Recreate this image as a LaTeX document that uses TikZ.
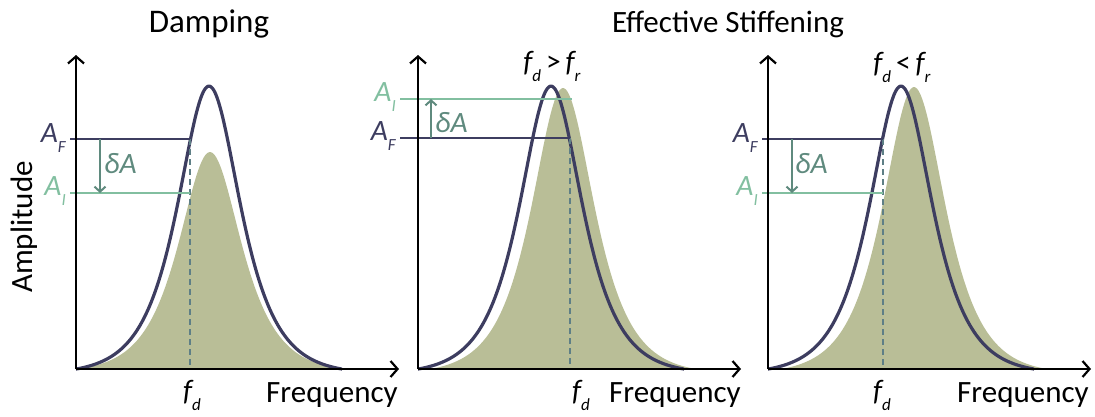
\documentclass[tikz,border=0pt]{standalone}
\usepackage{fontspec}
\setmainfont{Carlito}
\usetikzlibrary{arrows.meta}
\definecolor{navy}{HTML}{3D3D60}
\definecolor{olivefill}{HTML}{B9BE97}
\definecolor{mint}{HTML}{82BFA0}
\definecolor{tealdark}{HTML}{5F8A7E}
\definecolor{dashc}{HTML}{5E7F86}
\newcommand{\subl}[1]{\raisebox{-0.36em}{\fontsize{17}{17}\selectfont\itshape #1}}
\tikzset{
  axisarrow/.style={line width=2.2pt, -{Straight Barb[length=7pt,width=16pt,line width=2.2pt]}},
  outline/.style={navy, line width=3.2pt, line join=round},
  filled/.style={fill=olivefill, draw=none},
  afline/.style={navy, line width=2.8pt},
  ailine/.style={mint, line width=2.8pt},
  dashv/.style={dashc, line width=1.8pt, dash pattern=on 6pt off 4pt},
  darrow/.style={tealdark, line width=2pt, -{Straight Barb[length=5pt,width=11pt,line width=2pt]}},
  lbl/.style={font=\fontsize{31}{36}\selectfont, inner sep=0pt},
  tlbl/.style={font=\fontsize{33}{38}\selectfont, inner sep=0pt},
  ilbl/.style={font=\fontsize{29.5}{34}\selectfont\itshape, inner sep=0pt},
}
\begin{document}
\begin{tikzpicture}[x=1pt,y=-1pt,
  declare function={bump(\x,\c,\h)=\h*max(0,1/cosh((\x-\c)/28)-0.0175)/0.9825;}]
\useasboundingbox (0,0) rectangle (1095,416);

% titles
\node[tlbl, anchor=base] (t1) at (209,32) {Damping};
\node[lbl, anchor=base] (t2) at (728,32) {Effective Stiffening};
\node[lbl, rotate=90, anchor=base] (amp) at (32,227) {Amplitude};

% ---------------- Panel 1 ----------------
\coordinate (o1) at (76,369);
\coordinate (y1) at (76,55);
\coordinate (x1) at (399,369);
\fill[filled] plot[domain=78:342, samples=200] (\x,{369-bump(\x,210,217)}) -- cycle;
\draw[outline] plot[domain=76:342, samples=200] (\x,{369-bump(\x,209,283)});
\coordinate (af1s) at (70,139); \coordinate (af1e) at (190,139);
\coordinate (ai1s) at (70,193); \coordinate (ai1e) at (190,193);
\coordinate (fd1) at (190,369);
\draw[dashv] (af1e) -- (fd1);
\draw[afline] (af1s) -- (af1e);
\draw[ailine] (ai1s) -- (ai1e);
\coordinate (d1s) at (100,139); \coordinate (d1e) at (100,193);
\draw[darrow] (d1s) -- (d1e);
\draw[axisarrow] (o1) -- (y1);
\draw[axisarrow] (o1) -- (x1);
\node[ilbl, navy, anchor=base east] (lf1) at (66,142) {A\subl{F}};
\node[ilbl, mint, anchor=base east] (li1) at (66,195) {A\subl{I}};
\node[ilbl, tealdark, anchor=base west] (da1) at (104,173) {δA};
\node[ilbl, anchor=base] (fdl1) at (192,400) {f\subl{d}};
\node[lbl, anchor=base west] (fr1) at (266,402) {Frequency};

% ---------------- Panel 2 ----------------
\coordinate (o2) at (418,369);
\coordinate (y2) at (418,55);
\coordinate (x2) at (741,369);
\fill[filled] plot[domain=432:694, samples=200] (\x,{369-bump(\x,563,281)}) -- cycle;
\draw[outline] plot[domain=418:684, samples=200] (\x,{369-bump(\x,551,283)});
\coordinate (ai2s) at (400,99); \coordinate (ai2e) at (572,99);
\coordinate (af2s) at (400,138); \coordinate (af2e) at (570,138);
\coordinate (fd2) at (570,369);
\draw[dashv] (af2e) -- (fd2);
\draw[afline] (af2s) -- (af2e);
\draw[ailine] (ai2s) -- (ai2e);
\coordinate (d2s) at (431,138); \coordinate (d2e) at (431,99);
\draw[darrow] (d2s) -- (d2e);
\draw[axisarrow] (o2) -- (y2);
\draw[axisarrow] (o2) -- (x2);
\node[ilbl, mint, anchor=base east] (li2) at (396,101) {A\subl{I}};
\node[ilbl, navy, anchor=base east] (lf2) at (396,140) {A\subl{F}};
\node[ilbl, tealdark, anchor=base west] (da2) at (435,132) {δA};
\node[ilbl, anchor=base] (cmp2) at (552,71) {f\subl{d}{\upshape\,>\,}f\subl{r}};
\node[ilbl, anchor=base] (fdl2) at (581,400) {f\subl{d}};
\node[lbl, anchor=base west] (fr2) at (609,402) {Frequency};

% ---------------- Panel 3 ----------------
\coordinate (o3) at (768,369);
\coordinate (y3) at (768,55);
\coordinate (x3) at (1091,369);
\fill[filled] plot[domain=784:1044, samples=200] (\x,{369-bump(\x,914,282)}) -- cycle;
\draw[outline] plot[domain=768:1034, samples=200] (\x,{369-bump(\x,901,283)});
\coordinate (af3s) at (762,139); \coordinate (af3e) at (883,139);
\coordinate (ai3s) at (762,193); \coordinate (ai3e) at (883,193);
\coordinate (fd3) at (883,369);
\draw[dashv] (af3e) -- (fd3);
\draw[afline] (af3s) -- (af3e);
\draw[ailine] (ai3s) -- (ai3e);
\coordinate (d3s) at (792,139); \coordinate (d3e) at (792,193);
\draw[darrow] (d3s) -- (d3e);
\draw[axisarrow] (o3) -- (y3);
\draw[axisarrow] (o3) -- (x3);
\node[ilbl, navy, anchor=base east] (lf3) at (758,142) {A\subl{F}};
\node[ilbl, mint, anchor=base east] (li3) at (758,195) {A\subl{I}};
\node[ilbl, tealdark, anchor=base west] (da3) at (795,173) {δA};
\node[ilbl, anchor=base] (cmp3) at (902,72) {f\subl{d}{\upshape\,<\,}f\subl{r}};
\node[ilbl, anchor=base] (fdl3) at (882,400) {f\subl{d}};
\node[lbl, anchor=base west] (fr3) at (957,402) {Frequency};
\end{tikzpicture}
\end{document}
